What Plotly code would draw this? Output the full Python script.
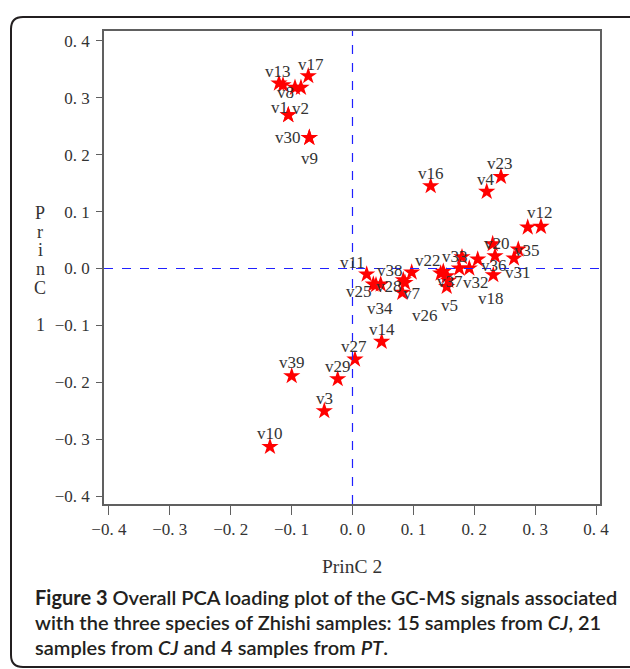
import plotly.graph_objects as go

# ---- data (PCA loadings) ----
var_labels = ["v17", "v13", "v8", "", "", "v1", "v2", "v30", "v9",
              "v16", "v23", "v4", "", "v12",
              "v20", "v36", "", "v33", "", "v32", "v35", "v31", "v18",
              "", "", "v37", "", "v5",
              "v22", "v38", "v7", "v26", "v11", "v25", "v28", "v34",
              "v14", "v27", "v29", "v39", "v3", "v10"]
princ2 = [-0.0726, -0.1207, -0.1141, -0.0944, -0.0846, -0.1054, -0.1054, -0.0709, -0.0709,
          0.1284, 0.2438, 0.2204, 0.2877, 0.3095,
          0.2302, 0.2340, 0.2056, 0.1798, 0.1754, 0.1918, 0.2722, 0.2652, 0.2312,
          0.1491, 0.1448, 0.1547, 0.1573, 0.1547,
          0.0972, 0.0834, 0.0862, 0.0818, 0.0233, 0.0342, 0.0463, 0.0386,
          0.0479, 0.0041, -0.0243, -0.0998, -0.0463, -0.1355]
princ1 = [0.3383, 0.3255, 0.3225, 0.3178, 0.3178, 0.2698, 0.2698, 0.2299, 0.2299,
          0.1450, 0.1613, 0.1350, 0.0724, 0.0735,
          0.0431, 0.0220, 0.0162, 0.0202, 0.0004, 0.0004, 0.0337, 0.0179, -0.0114,
          -0.0056, -0.0084, -0.0132, -0.0214, -0.0320,
          -0.0067, -0.0202, -0.0250, -0.0425, -0.0102, -0.0278, -0.0278, -0.0290,
          -0.1286, -0.1596, -0.1942, -0.1889, -0.2504, -0.3132]
tick_vals = [-0.4, -0.3, -0.2, -0.1, 0.0, 0.1, 0.2, 0.3, 0.4]
tick_text = ["\u22120. 4", "\u22120. 3", "\u22120. 2", "\u22120. 1", "0. 0", "0. 1", "0. 2", "0. 3", "0. 4"]

# ---- label placement (pixel offsets from each star, screen coords) ----
lab_dx = [3, -1, 2, 0, 0, -9, 12, -21, 0,
          0, -1, -1, 0, -1,
          4, -1, 0, -7, 0, 7, 9, 4, -2,
          0, 0, 3, 0, 3,
          16, -13, 7, 23, -14, -14, 8, 4,
          0, -1, 0, 0, 0, 0]
lab_dy = [-12, -12, 8, 0, 0, -7, -6, 0, 21,
          -12, -13, -12, 0, -14,
          0, 10, 0, -1, 0, 14, 1, 14, 24,
          0, 0, 5, 0, 19,
          -12, -9, 11, 23, -12, 7, 2, 23,
          -12, -13, -12, -13, -12, -13]

W, H = 630, 669
def px(x): return x / W
def py(y): return 1 - y / H

SERIF = "Liberation Serif"
TXT = "#333333"

fig = go.Figure()
fig.add_trace(go.Scatter(
    x=princ2, y=princ1, mode="markers",
    marker=dict(symbol="star", size=13, color="#ff0000", line=dict(width=0)),
    hoverinfo="skip", showlegend=False))

# reference lines
fig.add_shape(type="line", xref="x", yref="paper", x0=0, x1=0, y0=py(504), y1=py(31),
              line=dict(color="#2020ff", width=1.2, dash="dash"))
fig.add_shape(type="line", xref="paper", yref="y", x0=px(104), x1=px(600), y0=0, y1=0,
              line=dict(color="#2020ff", width=1.2, dash="dash"))

annotations = []
for lab, xv, yv, dx, dy in zip(var_labels, princ2, princ1, lab_dx, lab_dy):
    if not lab:
        continue
    annotations.append(dict(x=xv, y=yv, xref="x", yref="y", text=lab, showarrow=False,
                            xshift=dx, yshift=-dy, xanchor="center", yanchor="middle",
                            font=dict(family=SERIF, size=17, color=TXT)))

# axis titles
annotations.append(dict(x=px(352), y=py(566), xref="paper", yref="paper", text="PrinC 2",
                        showarrow=False, xanchor="center", yanchor="middle",
                        font=dict(family=SERIF, size=19.5, color=TXT)))
for i, ch in enumerate(["P", "r", "i", "n", "C", "", "1"]):
    if ch:
        annotations.append(dict(x=px(40), y=py(213 + i * 18.7), xref="paper", yref="paper",
                                text=ch, showarrow=False, xanchor="center", yanchor="middle",
                                font=dict(family=SERIF, size=18, color=TXT)))

# caption
cap_lines = [
    "<b>Figure 3</b> Overall PCA loading plot of the GC-MS signals associated",
    "with the three species of Zhishi samples: 15 samples from <i>CJ</i>, 21",
    "samples from <i>CJ</i> and 4 samples from <i>PT</i>.",
]
for i, line in enumerate(cap_lines):
    annotations.append(dict(x=px(33), y=py(597 + i * 25), xref="paper", yref="paper",
                            text=line, showarrow=False, xanchor="left", yanchor="middle",
                            font=dict(family="Lato", size=20, color="#231f20", weight=600)))

# rounded border
r = 12
L, T, R, B = 11, 17, 650, 667
path = (f"M {px(L)},{py(T + r)} Q {px(L)},{py(T)} {px(L + r)},{py(T)} "
        f"L {px(R - r)},{py(T)} Q {px(R)},{py(T)} {px(R)},{py(T + r)} "
        f"L {px(R)},{py(B - r)} Q {px(R)},{py(B)} {px(R - r)},{py(B)} "
        f"L {px(L + r)},{py(B)} Q {px(L)},{py(B)} {px(L)},{py(B - r)} Z")
fig.add_shape(type="path", xref="paper", yref="paper", path=path,
              line=dict(color="#231f20", width=2), layer="below")

axis_common = dict(tickvals=tick_vals, ticktext=tick_text, showgrid=False, zeroline=False,
                   showline=True, mirror=True, linecolor="#606060", linewidth=1.5,
                   ticks="outside", tickcolor="#606060", tickwidth=1.2, automargin=False,
                   tickfont=dict(family=SERIF, size=17, color=TXT))

fig.update_layout(
    template="none",
    width=W, height=H, margin=dict(l=0, r=0, t=0, b=0, pad=0, autoexpand=False),
    paper_bgcolor="white", plot_bgcolor="white", showlegend=False,
    xaxis=dict(range=[-0.4080, 0.4064], domain=[px(104), px(600)], ticklen=9, **axis_common),
    yaxis=dict(range=[-0.4139, 0.4174], domain=[py(504), py(31)], ticklen=6,
               ticklabelstandoff=3, **axis_common),
    annotations=annotations,
)

fig.write_html("out.html", config={"displayModeBar": False})
